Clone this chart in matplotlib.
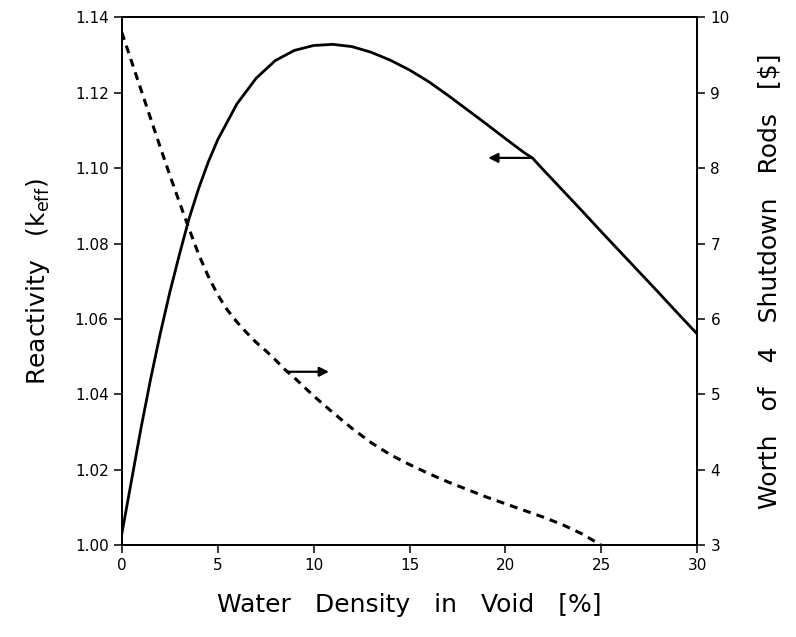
import matplotlib.pyplot as plt

# reactivity curve (left axis)
water = [0, 0.5, 1, 1.5, 2, 2.5, 3, 3.5, 4, 4.5, 5, 6, 7, 8, 9, 10, 11, 12,
         13, 14, 15, 16, 17, 18, 19, 20, 21, 21.4, 22, 23, 24, 25, 26, 27,
         28, 29, 30]
keff = [1.003, 1.017, 1.031, 1.044, 1.056, 1.067, 1.077, 1.0865, 1.0945,
        1.1015, 1.1075, 1.117, 1.1238, 1.1285, 1.1312, 1.1325, 1.1328,
        1.1322, 1.1307, 1.1286, 1.126, 1.1229, 1.1193, 1.1155, 1.1117,
        1.1078, 1.104, 1.1027, 1.0994, 1.094, 1.0886, 1.0831, 1.0777,
        1.0723, 1.0669, 1.0614, 1.056]

# shutdown rod worth (right axis)
water_w = [0, 0.5, 1, 1.5, 2, 2.5, 3, 3.5, 4, 4.5, 5, 5.5, 6, 6.5, 7, 7.5,
           8, 8.5, 9, 9.5, 10, 11, 12, 13, 14, 15, 16, 17, 18, 19, 20, 21,
           22, 23, 24, 25]
worth = [9.80, 9.42, 9.04, 8.66, 8.28, 7.91, 7.55, 7.20, 6.86, 6.57, 6.32,
         6.12, 5.96, 5.82, 5.69, 5.58, 5.46, 5.33, 5.22, 5.10, 4.98, 4.76,
         4.55, 4.36, 4.20, 4.07, 3.95, 3.84, 3.74, 3.64, 3.55, 3.46, 3.37,
         3.27, 3.15, 3.00]

fig, ax = plt.subplots(figsize=(7.96, 6.37), dpi=100)
fig.subplots_adjust(left=0.153, right=0.876, top=0.973, bottom=0.144)
ax2 = ax.twinx()

ax.plot(water, keff, color='black', lw=2.0)
ax2.plot(water_w, worth, color='black', lw=2.2, dashes=(2.6, 2.0))

ax.set_xlim(0, 30)
ax.set_ylim(1.00, 1.14)
ax2.set_ylim(3, 10)
ax.set_xticks(range(0, 31, 5))
ax.set_yticks([1.00, 1.02, 1.04, 1.06, 1.08, 1.10, 1.12, 1.14])
ax.set_yticklabels([f'{v:.2f}' for v in ax.get_yticks()])
ax2.set_yticks(range(3, 11))

for a in (ax, ax2):
    for s in a.spines.values():
        s.set_linewidth(1.3)
    a.tick_params(direction='out', length=6, width=1.1, labelsize=11)

# arrows pointing to the matching axis
ax.annotate('', xy=(19.1, 1.1027), xytext=(21.4, 1.1027),
            arrowprops=dict(arrowstyle='-|>', color='black', lw=1.6,
                            mutation_scale=14, shrinkA=0, shrinkB=0))
ax2.annotate('', xy=(10.8, 5.30), xytext=(8.6, 5.30),
             arrowprops=dict(arrowstyle='-|>', color='black', lw=1.6,
                             mutation_scale=14, shrinkA=0, shrinkB=0))

ax.set_xlabel('Water   Density   in   Void   [%]', fontsize=18, labelpad=14)
ax.set_ylabel(r'Reactivity   (k$_{\rm eff}$)', fontsize=18, labelpad=16)
ax2.set_ylabel(r'Worth   of   4   Shutdown   Rods   [\$]', fontsize=18,
               labelpad=20)

plt.savefig('out.png', dpi=100)
